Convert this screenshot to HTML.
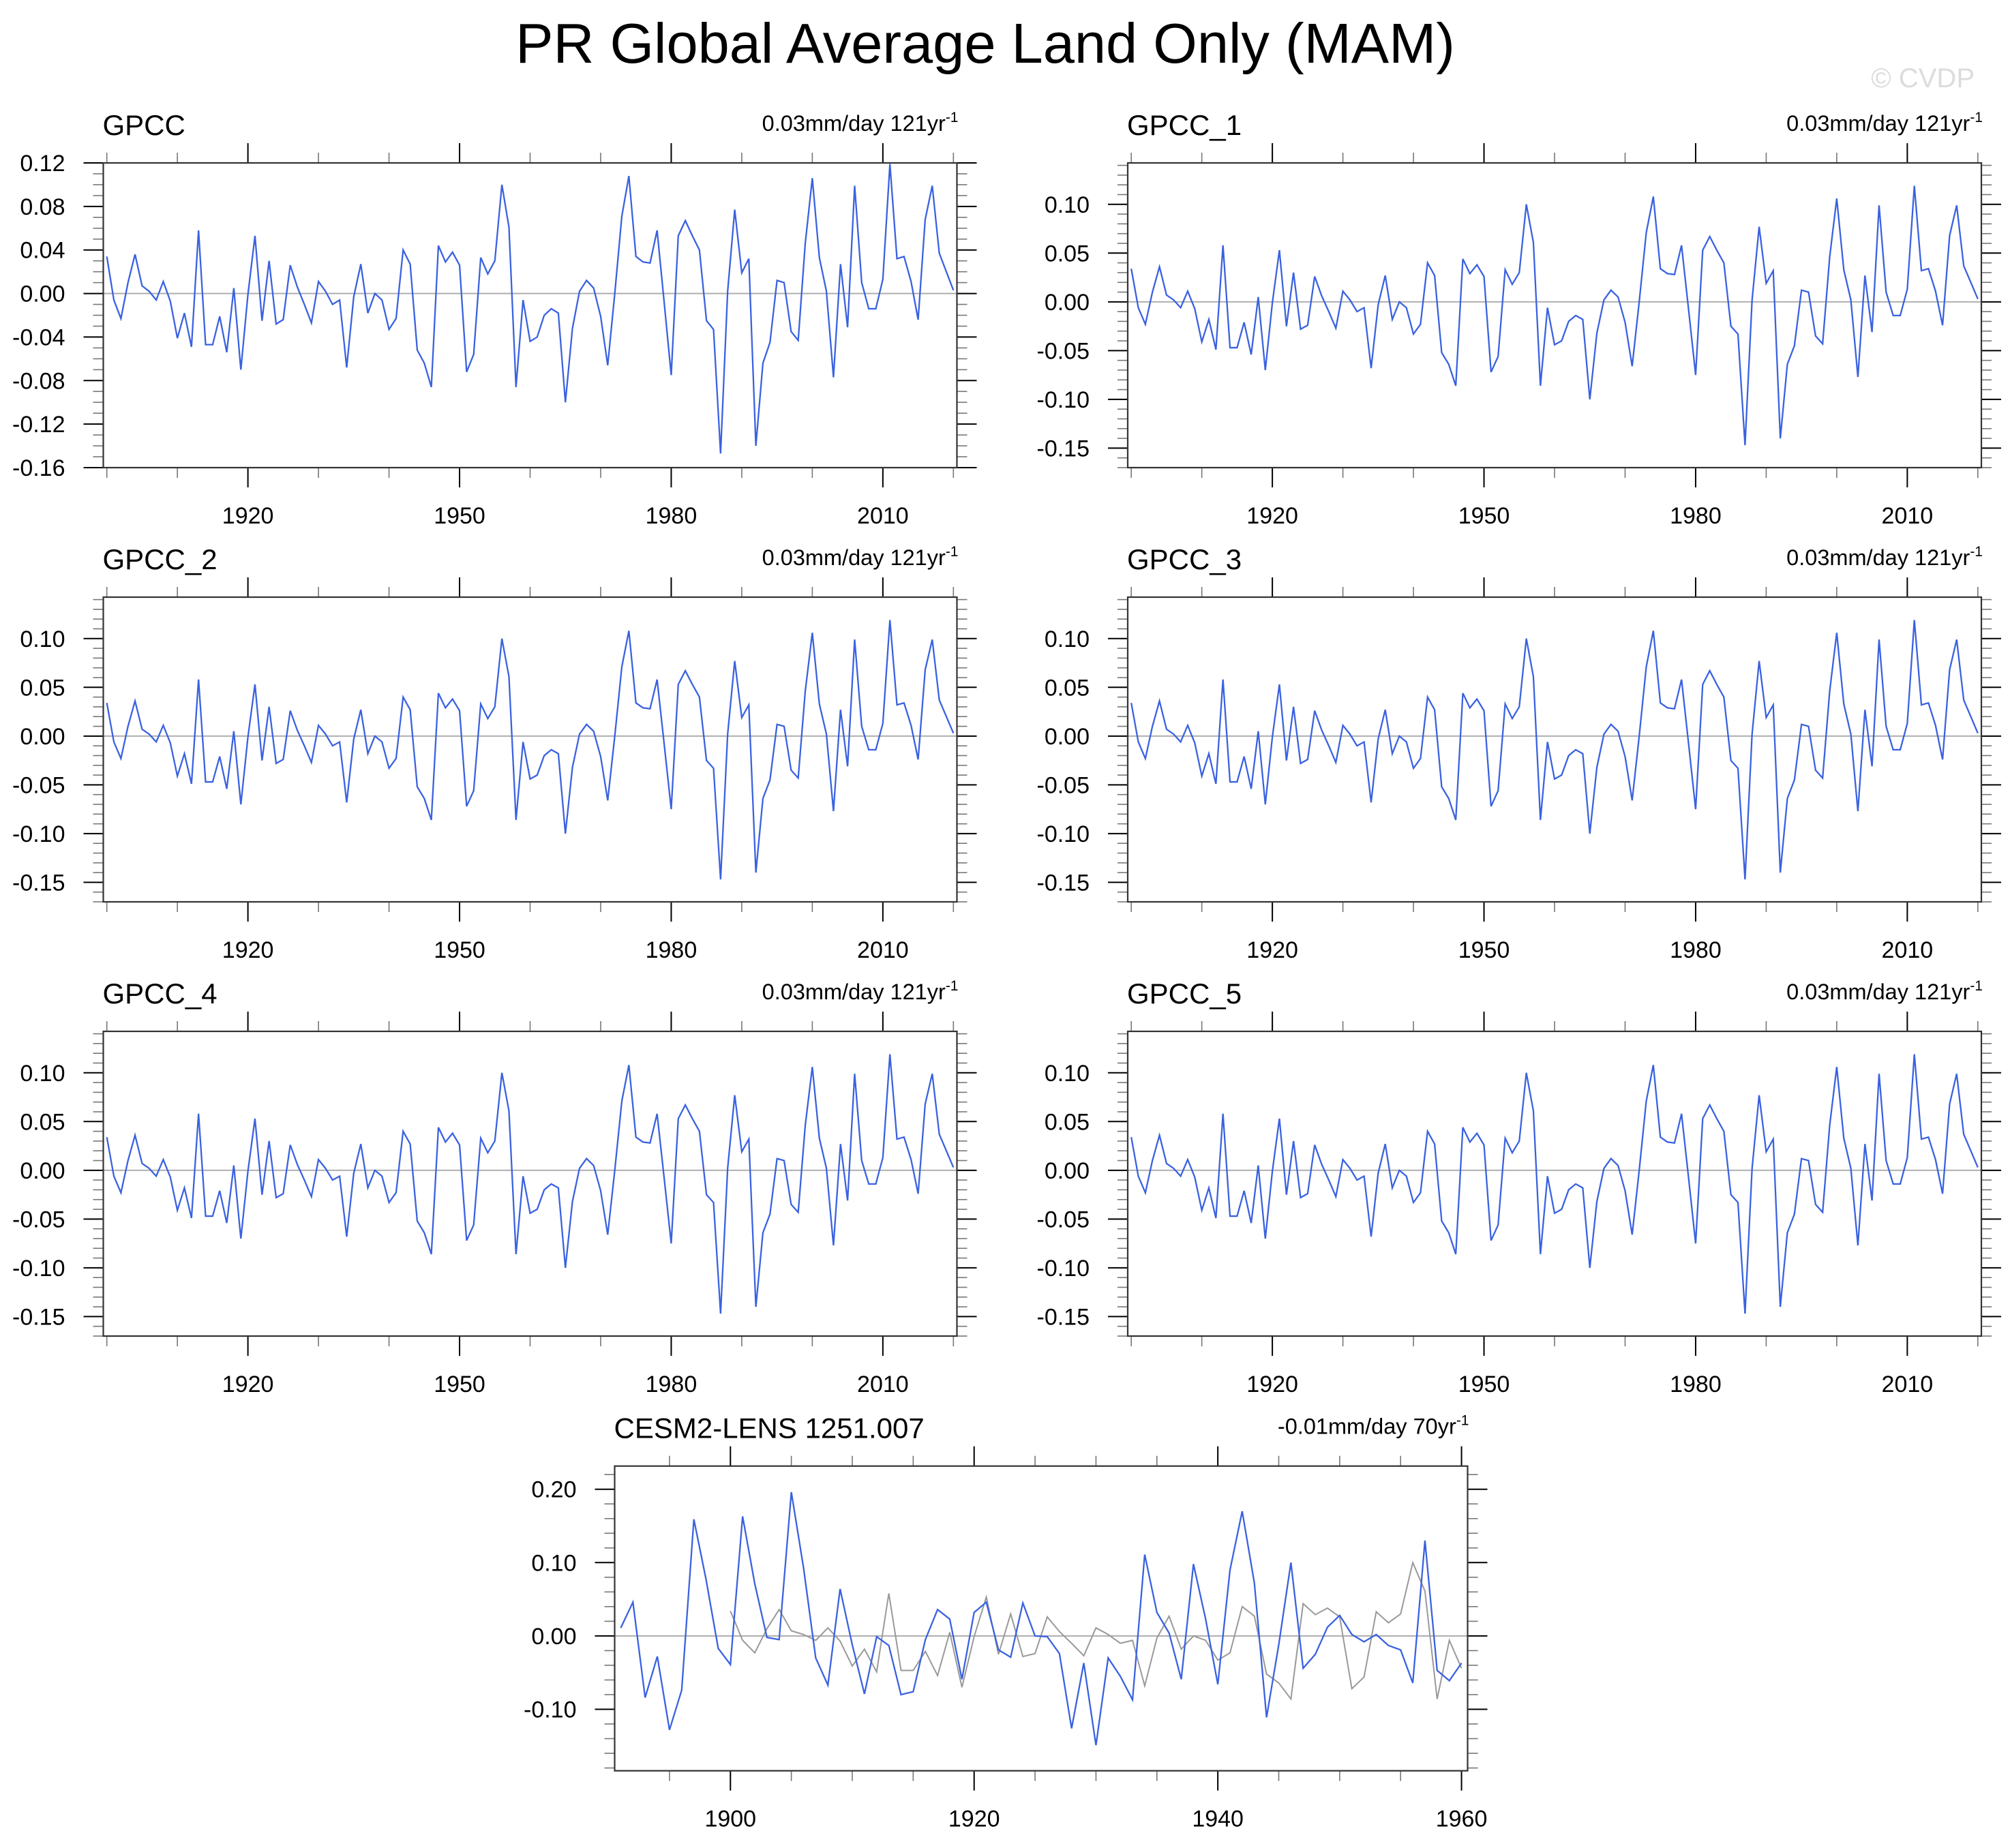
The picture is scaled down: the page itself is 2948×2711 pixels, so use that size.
<!DOCTYPE html>
<html>
<head>
<meta charset="utf-8">
<style>
  html, body { margin: 0; padding: 0; background: #fff; }
  svg { display: block; font-family: "Liberation Sans", "DejaVu Sans", sans-serif; }
</style>
</head>
<body>
<svg id="chart" width="2948" height="2711" viewBox="0 0 2948 2711" xmlns="http://www.w3.org/2000/svg">
  <rect x="0" y="0" width="2948" height="2711" fill="#fff"/>
  <text x="1445" y="92" font-size="83" text-anchor="middle" fill="#000">PR Global Average Land Only (MAM)</text>
  <text x="2896" y="128" font-size="40" text-anchor="end" fill="#dcdcdc">© CVDP</text>
</svg>
<script>
// ---- data ----
const gpccStartYear = 1900;
const gpccValues = [
0.034,-0.006,-0.023,0.010,0.036,0.007,0.002,-0.006,0.011,-0.007,
-0.041,-0.018,-0.049,0.058,-0.047,-0.047,-0.021,-0.054,0.005,-0.070,
-0.001,0.053,-0.025,0.030,-0.028,-0.024,0.026,0.006,-0.010,-0.027,
0.011,0.002,-0.010,-0.006,-0.068,-0.003,0.027,-0.018,0.000,-0.006,
-0.033,-0.023,0.040,0.027,-0.052,-0.064,-0.086,0.044,0.029,0.038,
0.026,-0.072,-0.056,0.033,0.018,0.030,0.100,0.061,-0.086,-0.006,
-0.044,-0.040,-0.020,-0.014,-0.018,-0.100,-0.032,0.002,0.012,0.005,
-0.021,-0.066,0.000,0.071,0.108,0.034,0.029,0.028,0.058,-0.008,
-0.075,0.053,0.067,0.053,0.040,-0.025,-0.033,-0.147,0.002,0.077,
0.019,0.032,-0.140,-0.064,-0.045,0.012,0.010,-0.035,-0.043,0.046,
0.106,0.033,0.002,-0.077,0.027,-0.031,0.099,0.010,-0.014,-0.014,
0.013,0.119,0.032,0.034,0.011,-0.024,0.068,0.099,0.037,0.020,
0.003];
const cesmStartYear = 1891;
const cesmValues = [
0.011,0.046,-0.084,-0.028,-0.128,-0.074,0.159,0.077,-0.017,-0.039,
0.163,0.071,-0.002,-0.005,0.196,0.093,-0.030,-0.067,0.064,-0.012,
-0.079,-0.001,-0.013,-0.080,-0.076,-0.005,0.036,0.023,-0.059,0.032,
0.046,-0.019,-0.029,0.045,0.000,-0.001,-0.024,-0.126,-0.037,-0.149,
-0.030,-0.055,-0.087,0.111,0.032,0.004,-0.059,0.098,0.023,-0.066,
0.090,0.170,0.072,-0.111,-0.012,0.100,-0.044,-0.025,0.012,0.028,
0.002,-0.008,0.002,-0.013,-0.019,-0.064,0.130,-0.047,-0.061,-0.037];
const obsOverlayStartYear = 1900;
const obsOverlayValues = [
0.034,-0.006,-0.023,0.010,0.036,0.007,0.002,-0.006,0.011,-0.007,
-0.041,-0.018,-0.049,0.058,-0.047,-0.047,-0.021,-0.054,0.005,-0.070,
-0.001,0.053,-0.025,0.030,-0.028,-0.024,0.026,0.006,-0.010,-0.027,
0.011,0.002,-0.010,-0.006,-0.068,-0.003,0.027,-0.018,0.000,-0.006,
-0.033,-0.023,0.040,0.027,-0.052,-0.064,-0.086,0.044,0.029,0.038,
0.026,-0.072,-0.056,0.033,0.018,0.030,0.100,0.061,-0.086,-0.006,
-0.044];
const gpccYTicksA = [0.12,0.08,0.04,0.00,-0.04,-0.08,-0.12,-0.16];
const gpccYLabelsA = ["0.12","0.08","0.04","0.00","-0.04","-0.08","-0.12","-0.16"];
const gpccYTicksB = [0.10,0.05,0.00,-0.05,-0.10,-0.15];
const gpccYLabelsB = ["0.10","0.05","0.00","-0.05","-0.10","-0.15"];
const cesmYTicks = [0.20,0.10,0.00,-0.10];
const cesmYLabels = ["0.20","0.10","0.00","-0.10"];
const gpccXTicks = [1920,1950,1980,2010];
const cesmXTicks = [1900,1920,1940,1960];
const panelTitles = ["GPCC","GPCC_1","GPCC_2","GPCC_3","GPCC_4","GPCC_5"];
const gpccTrendText = "0.03mm/day 121yr";
const cesmTrendText = "-0.01mm/day 70yr";

const NS = "http://www.w3.org/2000/svg";
const svg = document.getElementById("chart");
function mk(tag, attrs, parent) {
  const e = document.createElementNS(NS, tag);
  for (const k in attrs) e.setAttribute(k, attrs[k]);
  (parent || svg).appendChild(e);
  return e;
}

function drawPanel(p) {
  const g = mk("g", {});
  
  
  const W = p.w, H = p.h;
  const xs = v => p.x + (v - p.xmin) / (p.xmax - p.xmin) * W;
  const ys = v => p.y + (p.ymax - v) / (p.ymax - p.ymin) * H;

  const t = mk("text", {x: p.x - 1, y: p.y - 41, "font-size": 42, fill: "#000"}, g);
  t.textContent = p.title;
  
  
  const tr = mk("text", {x: p.x + W + 2, y: p.y - 47, "font-size": 32.5, fill: "#000", "text-anchor": "end"}, g);
  
  
  const t1 = mk("tspan", {}, tr); t1.textContent = p.trend;
  const t2 = mk("tspan", {dy: -13, "font-size": 21}, tr); t2.textContent = "-1";

  for (let v = p.yMinorStart; v >= p.ymin - 1e-9; v -= p.yMinorStep) {
    const yy = ys(v);
    if (yy < p.y - 0.5 || yy > p.y + H + 0.5) continue;
    const l1 = mk("line", {x1: p.x - 15, x2: p.x, y1: yy, y2: yy, stroke: "#777", "stroke-width": 1.6}, g);
    
    
    const l2 = mk("line", {x1: p.x + W, x2: p.x + W + 15, y1: yy, y2: yy, stroke: "#777", "stroke-width": 1.6}, g);
    
    
  }
  p.yTicks.forEach((v, i) => {
    const yy = ys(v);
    const l1 = mk("line", {x1: p.x - 29, x2: p.x, y1: yy, y2: yy, stroke: "#000", "stroke-width": 2}, g);
    
    
    const l2 = mk("line", {x1: p.x + W, x2: p.x + W + 29, y1: yy, y2: yy, stroke: "#000", "stroke-width": 2}, g);
    
    
    const tx = mk("text", {x: p.x - 56, y: yy + 12, "font-size": 34, "text-anchor": "end", fill: "#000"}, g);
    tx.textContent = p.yLabels[i];
    
    
  });
  for (let v = p.xMinorStart; v <= p.xmax; v += p.xMinorStep) {
    if (v < p.xmin) continue;
    const xx = xs(v);
    const l1 = mk("line", {x1: xx, x2: xx, y1: p.y + H, y2: p.y + H + 15, stroke: "#777", "stroke-width": 1.6}, g);
    
    
    const l2 = mk("line", {x1: xx, x2: xx, y1: p.y - 15, y2: p.y, stroke: "#777", "stroke-width": 1.6}, g);
    
    
  }
  p.xTicks.forEach(v => {
    const xx = xs(v);
    const l1 = mk("line", {x1: xx, x2: xx, y1: p.y + H, y2: p.y + H + 29, stroke: "#000", "stroke-width": 2}, g);
    
    
    const l2 = mk("line", {x1: xx, x2: xx, y1: p.y - 29, y2: p.y, stroke: "#000", "stroke-width": 2}, g);
    
    
    const tx = mk("text", {x: xx, y: p.y + H + 82, "font-size": 34, "text-anchor": "middle", fill: "#000"}, g);
    tx.textContent = String(v);
    
    
  });

  const z = mk("line", {x1: p.x, x2: p.x + W, y1: ys(0), y2: ys(0), stroke: "#aaa", "stroke-width": 1.8}, g);
  
  

  p.series.forEach(s => {
    const pts = s.values.map((v, i) => xs(s.start + i).toFixed(2) + "," + ys(v).toFixed(2)).join(" ");
    const pl = mk("polyline", {points: pts, fill: "none", stroke: s.color, "stroke-width": s.width, "stroke-linejoin": "miter"}, g);
    
    
  });

  const fr = mk("rect", {x: p.x, y: p.y, width: W, height: H, fill: "none", stroke: "#333", "stroke-width": 2.2}, g);
  
  
}

const colX = [151.5, 1654];
const rowY = [239, 876, 1513];
const PW = 1252, PH = 447;
for (let i = 0; i < 6; i++) {
  const col = i % 2, row = Math.floor(i / 2);
  const first = i === 0;
  drawPanel({
    name: "panel-" + panelTitles[i].toLowerCase().replace("_", "-"),
    title: panelTitles[i], trend: gpccTrendText,
    x: colX[col], y: rowY[row], w: PW, h: PH,
    xmin: 1899.5, xmax: 2020.5,
    ymin: first ? -0.16 : -0.170, ymax: first ? 0.12 : 0.1425,
    yTicks: first ? gpccYTicksA : gpccYTicksB,
    yLabels: first ? gpccYLabelsA : gpccYLabelsB,
    yMinorStart: 0.14, yMinorStep: 0.01,
    xTicks: gpccXTicks, xMinorStart: 1900, xMinorStep: 10,
    series: [{name: "gpcc-line", start: gpccStartYear, values: gpccValues, color: "#3a62e0", width: 2.3}]
  });
}
drawPanel({
  name: "panel-cesm2-lens",
  title: "CESM2-LENS 1251.007", trend: cesmTrendText,
  x: 901.5, y: 2150.7, w: 1251, h: 447,
  xmin: 1890.5, xmax: 1960.5,
  ymin: -0.1838, ymax: 0.2316,
  yTicks: cesmYTicks, yLabels: cesmYLabels,
  yMinorStart: 0.22, yMinorStep: 0.02,
  xTicks: cesmXTicks, xMinorStart: 1895, xMinorStep: 5,
  series: [
    {name: "observed-gpcc-line", start: obsOverlayStartYear, values: obsOverlayValues, color: "#999", width: 2},
    {name: "cesm-line", start: cesmStartYear, values: cesmValues, color: "#3a62e0", width: 2.3}
  ]
});
</script>
</body>
</html>
